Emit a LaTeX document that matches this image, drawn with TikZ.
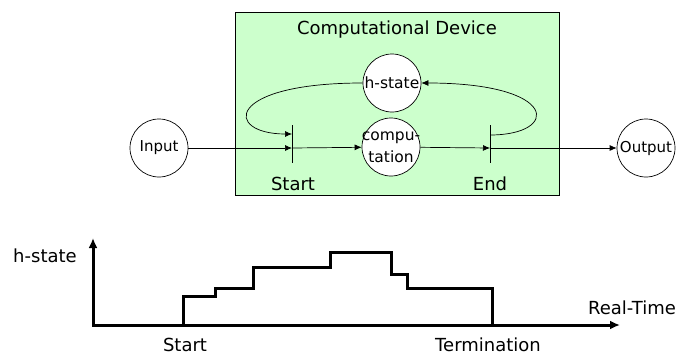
\documentclass[tikz,border=0pt]{standalone}
\usepackage{fontspec}
\setmainfont{DejaVu Sans}
\usepackage{xcolor}
\usetikzlibrary{arrows.meta,positioning}

\definecolor{devicegreen}{RGB}{204,255,204}

\begin{document}
\begin{tikzpicture}[x=1pt,y=-1pt,>={Latex[length=7pt,width=6pt]}]
  \tikzstyle{state}=[circle,draw=black,fill=white,line width=0.7pt,minimum size=58pt,inner sep=0pt,font=\fontsize{15.5}{22}\selectfont,align=center]
  \tikzstyle{device}=[draw=black,line width=0.7pt,fill=devicegreen]
  \tikzstyle{bigtext}=[font=\fontsize{18}{20}\selectfont,inner sep=0pt]
  \tikzstyle{wire}=[->,line width=0.7pt]
  \tikzstyle{bar}=[line width=0.8pt]
  \tikzstyle{plot}=[line width=3pt,line join=miter]

  \useasboundingbox (0,0) rectangle (679,356);

  % Device
  \draw [device] (235,12) rectangle (559,195);
  \node [bigtext] (title) at (397,30) {Computational Device};

  % States
  \node [state, font=\fontsize{15}{22}\selectfont] (input) at (159,148) {Input};
  \node [state] (hstate) at (392,83) {h-state};
  \node [state, inner sep=-6pt] (comp) at (391,147) {compu-\\tation};
  \node [state, font=\fontsize{15}{22}\selectfont] (output) at (646,148) {Output};

  % Bars
  \coordinate (startTop) at (292,125);
  \coordinate (startBot) at (292,163);
  \coordinate (startIn) at (292,148);
  \coordinate (startLoop) at (292,134);
  \coordinate (endTop) at (490,125);
  \coordinate (endBot) at (490,163);
  \coordinate (endIn) at (490,148);
  \coordinate (endLoop) at (490,135);
  \draw [bar] (startTop) -- (startBot);
  \draw [bar] (endTop) -- (endBot);
  \node [bigtext] (startlbl) at (293,184) {Start};
  \node [bigtext] (endlbl) at (490,184) {End};

  % Arcs
  \draw [wire] (input) -- (startIn);
  \draw [wire] (startIn) -- (comp);
  \draw [wire] (comp) -- (endIn);
  \draw [wire] (endIn) -- (output);
  \draw [wire] (hstate.west) .. controls (224,83) and (224,134) .. (startLoop);
  \draw [wire] (endLoop) .. controls (560,135) and (560,83) .. (hstate.east);

  % Time chart
  \coordinate (origin) at (93,325);
  \coordinate (ytip) at (93,238);
  \coordinate (xtip) at (620,325);
  \draw [plot,{Latex[length=10pt,width=9pt]}-{Latex[length=10pt,width=9pt]}] (ytip) -- (origin) -- (xtip);
  \draw [plot] (183,325) -- (183,296) -- (215,296) -- (215,288) -- (253,288)
    -- (253,267) -- (330,267) -- (330,252) -- (391,252) -- (391,274)
    -- (407,274) -- (407,288) -- (492,288) -- (492,325);
  \node [bigtext] (ylbl) at (45,256) {h-state};
  \node [bigtext] (xlbl) at (632,308) {Real-Time};
  \node [bigtext] (startt) at (185,345) {Start};
  \node [bigtext] (termt) at (488,345) {Termination};
\end{tikzpicture}
\end{document}
